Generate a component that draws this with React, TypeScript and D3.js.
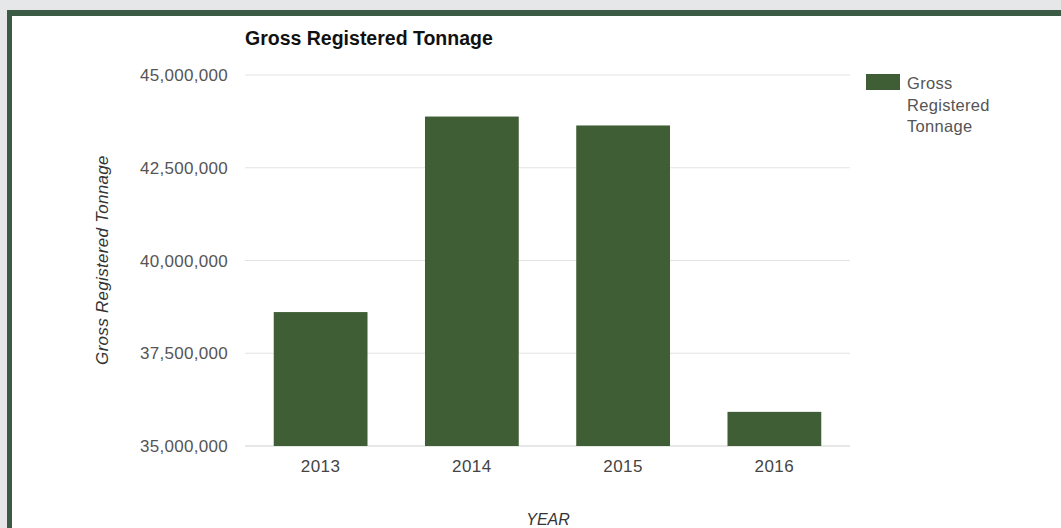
import React from "react";
import * as d3 from "d3";

const categories = ["2013", "2014", "2015", "2016"];
const values = [38610000, 43880000, 43640000, 35920000];
const yTicks = [35000000, 37500000, 40000000, 42500000, 45000000];
const seriesName = "Gross Registered Tonnage";
const legendLines = ["Gross", "Registered", "Tonnage"];

const W = 1061;
const H = 528;
const plot = { left: 245, right: 850, top: 75, bottom: 446 };
const barColor = "#405e35";
const borderColor = "#3c5b46";

export default function App() {
  const x = d3.scaleBand<string>().domain(categories).range([plot.left, plot.right]).paddingInner(0.38).paddingOuter(0.19);
  const y = d3.scaleLinear().domain([35000000, 45000000]).range([plot.bottom, plot.top]);
  const fmt = d3.format(",");
  const font = "Arial, 'Liberation Sans', sans-serif";
  return (
    <svg width={W} height={H} style={{ position: "absolute", left: 0, top: 0, display: "block" }} fontFamily={font}>
      <rect x={0} y={0} width={W} height={H} fill="#e6e7e8" />
      <rect x={7} y={10} width={W - 7} height={H - 10} fill={borderColor} />
      <rect x={12} y={16} width={W - 12} height={H - 16} fill="#ffffff" />
      <text x={245} y={45} fontSize={19.5} fontWeight="bold" fill="#111">{seriesName}</text>
      {yTicks.map((t) => (
        <g key={t}>
          <line x1={plot.left} x2={plot.right} y1={y(t)} y2={y(t)} stroke={t === 35000000 ? "#d0d0d0" : "#e3e3e3"} strokeWidth={1} />
          <text x={228} y={y(t) + 6} fontSize={17} fill="#555" textAnchor="end" letterSpacing={0.3}>{fmt(t)}</text>
        </g>
      ))}
      {categories.map((c, i) => (
        <g key={c}>
          <rect x={x(c)} y={y(values[i])} width={x.bandwidth()} height={plot.bottom - y(values[i])} fill={barColor} />
          <text x={(x(c) as number) + x.bandwidth() / 2} y={472} fontSize={17} fill="#444" textAnchor="middle" letterSpacing={0.5}>{c}</text>
        </g>
      ))}
      <text transform={`translate(108,260) rotate(-90)`} fontSize={17} fontStyle="italic" fill="#333" textAnchor="middle" letterSpacing={0.3}>{seriesName}</text>
      <text x={548} y={525} fontSize={16} fontStyle="italic" fill="#333" textAnchor="middle">YEAR</text>
      <rect x={866} y={74} width={34} height={16} fill={barColor} />
      {legendLines.map((l, i) => (
        <text key={l} x={907} y={89 + i * 21.5} fontSize={16.5} fill="#555" letterSpacing={0.3}>{l}</text>
      ))}
    </svg>
  );
}
